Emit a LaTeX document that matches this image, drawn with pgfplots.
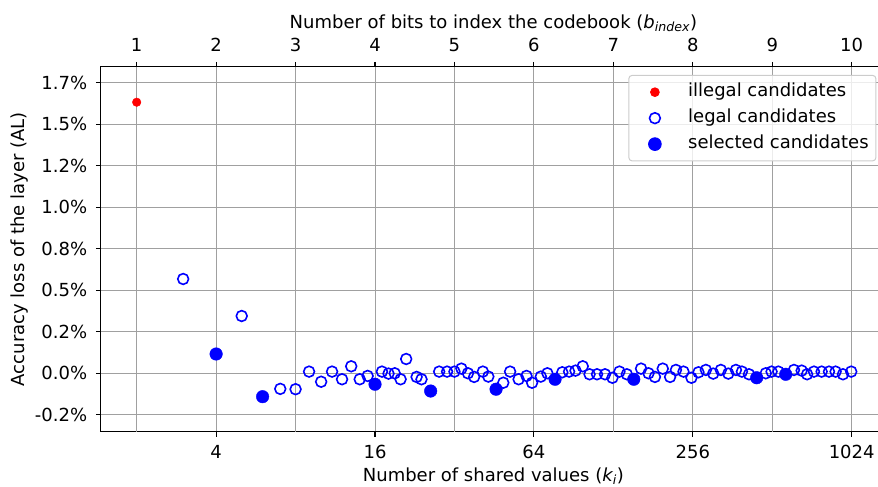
\documentclass[border=0pt]{standalone}
\usepackage{fontspec}
\setmainfont{DejaVu Sans}
\usepackage{pgfplots}
\pgfplotsset{compat=1.18}
\definecolor{gridgray}{RGB}{160,160,160}
\definecolor{legedge}{RGB}{204,204,204}

\begin{document}
\begin{tikzpicture}

% eixo de cima: bits b (k = 2^b)
\begin{axis}[
  scale only axis, width=785.3pt, height=365pt,
  at={(100.7pt,55.3pt)}, anchor=south west,
  xmode=log, log basis x=2, xmin=1.461, xmax=1381.5,
  ymin=-0.352, ymax=1.847,
  axis x line*=top, hide y axis,
  tick align=outside, xtick align=outside, major tick length=4.9pt,
  every tick/.style={black, line width=1.1pt},
  tick label style={font=\fontsize{18}{21.6}\selectfont, inner sep=0pt},
  axis line style={line width=1.1pt},
  xtick={2,4,8,16,32,64,128,256,512,1024},
  xticklabels={1,2,3,4,5,6,7,8,9,10},
  xticklabel style={anchor=base, yshift=10.3pt},
  xlabel={Number of bits to index the codebook ({\itshape b}\textsubscript{\itshape index})},
  every axis x label/.style={at={(axis description cs:0.5,1.1052)}, anchor=base,
    font=\fontsize{18}{21.6}\selectfont, inner sep=0pt},
]
\end{axis}

% eixo principal: k_i (grade vertical em todas as potencias de 2)
\begin{axis}[
  scale only axis, width=785.3pt, height=365pt,
  at={(100.7pt,55.3pt)}, anchor=south west,
  xmode=log, log basis x=2, xmin=1.461, xmax=1381.5,
  ymin=-0.352, ymax=1.847,
  tick align=outside, major tick length=4.9pt,
  every tick/.style={black, line width=1.1pt},
  tick label style={font=\fontsize{18}{21.6}\selectfont, inner sep=0pt},
  grid style={gridgray, line width=1pt},
  axis line style={line width=1.1pt},
  xtick={4,16,64,256,1024},
  xticklabels={4,16,64,256,1024},
  extra x ticks={2,8,32,128,512},
  extra x tick labels={},
  extra x tick style={major tick length=0pt, xmajorgrids},
  xtick pos=bottom, ytick pos=left,
  ytick={-0.25,0,0.25,0.5,0.75,1,1.25,1.5,1.75},
  yticklabels={-0.2\%,0.0\%,0.2\%,0.5\%,0.8\%,1.0\%,1.2\%,1.5\%,1.7\%},
  xmajorgrids, ymajorgrids,
  xticklabel style={anchor=base, yshift=-21.7pt},
  yticklabel style={anchor=east, xshift=-8.5pt},
  xlabel={Number of shared values ({\itshape k}\textsubscript{\itshape i})},
  ylabel={Accuracy loss of the layer (AL)},
  every axis x label/.style={at={(axis description cs:0.5,-0.1360)}, anchor=base,
    font=\fontsize{18}{21.6}\selectfont, inner sep=0pt},
  every axis y label/.style={at={(axis description cs:-0.0964,0.5)}, anchor=base, rotate=90,
    font=\fontsize{18}{21.6}\selectfont, inner sep=0pt},
  legend cell align=left,
  legend style={at={(axis description cs:0.9877,0.9773)}, anchor=north east,
    draw=legedge, line width=1pt, fill=white, fill opacity=0.8, text opacity=1,
    rounded corners=3pt, font=\fontsize{18}{21.6}\selectfont,
    inner xsep=7.2pt, inner ysep=7.75pt, row sep=8.1pt,
    nodes={inner sep=0pt, text depth=4.2pt}},
  legend image code/.code={
    \path[draw=none, fill=none] (0pt,-6pt) rectangle (52.1pt,6pt);
    \draw[#1, fill opacity=1] plot coordinates {(18.8pt,0pt)};
  },
]

\addplot[only marks, mark=*, mark size=4.3pt, red] coordinates {(2,1.633)};
\addlegendentry{illegal candidates}

\addplot[only marks, mark=o, mark size=5.4pt, blue, mark options={line width=1.6pt}] coordinates {
  (3,0.568) (5,0.345) (7,-0.094) (8,-0.096) (9,0.010) (10,-0.051)
  (11,0.010) (12,-0.036) (13,0.042) (14,-0.036) (15,-0.016)
  (17,0.010) (18,-0.002) (19,0.000) (20,-0.036) (21,0.086)
  (23,-0.022) (24,-0.036) (28,0.010) (30,0.010) (32,0.010)
  (34,0.028) (36,0.000) (38,-0.022) (41,0.010) (43,-0.020)
  (49,-0.057) (52,0.010) (56,-0.036) (60,-0.016) (63,-0.057)
  (68,-0.020) (72,0.000) (82,0.006) (87,0.010) (92,0.016)
  (98,0.042) (104,-0.006) (111,-0.006) (119,-0.006) (127,-0.027)
  (135,0.010) (144,-0.006) (163,0.028) (174,0.000) (184,-0.022)
  (197,0.028) (210,-0.022) (221,0.020) (236,0.010) (253,-0.027)
  (269,0.006) (287,0.020) (306,-0.002) (327,0.020) (349,-0.002)
  (373,0.020) (393,0.010) (418,-0.006) (484,0.000) (509,0.010)
  (540,0.010) (619,0.020) (662,0.016) (694,-0.006) (737,0.010)
  (788,0.010) (840,0.010) (890,0.010) (949,-0.006) (1020,0.010)
};
\addlegendentry{legal candidates}

\addplot[only marks, mark=*, mark size=6.3pt, blue] coordinates {
  (4,0.116) (6,-0.141) (16,-0.066) (26,-0.107) (46,-0.096)
  (77,-0.036) (153,-0.036) (447,-0.027) (576,-0.006)
};
\addlegendentry{selected candidates}

\end{axis}

\pgfresetboundingbox
\useasboundingbox (0pt,0pt) rectangle (878pt,487pt);
\end{tikzpicture}
\end{document}
